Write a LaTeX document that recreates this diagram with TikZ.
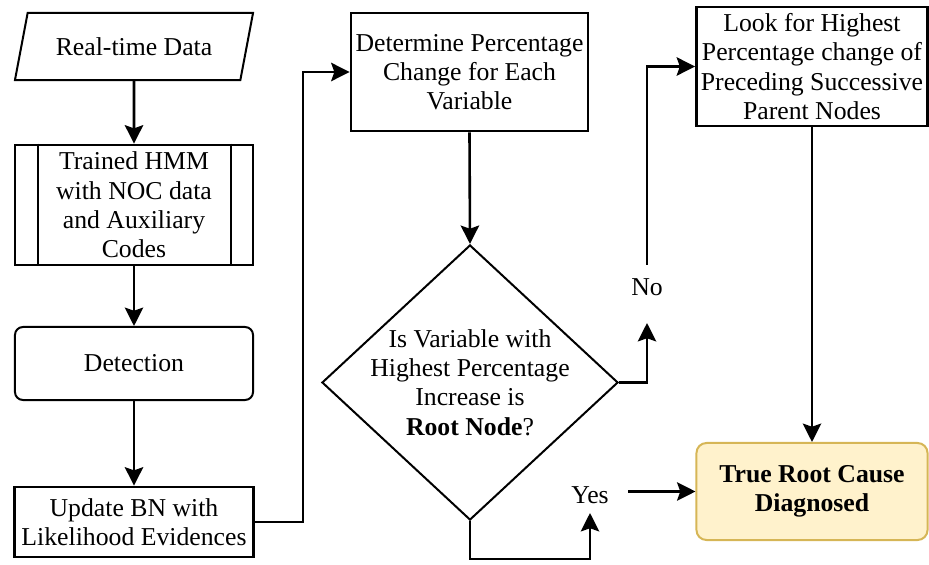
\documentclass[tikz,border=0pt]{standalone}
\usepackage{fontspec}
\setmainfont{Liberation Serif}
\usetikzlibrary{shapes.geometric,arrows.meta}
\tikzset{
  box/.style={draw, line width=0.07cm, align=center, inner sep=0.05cm},
  databox/.style={draw, line width=0.05cm, trapezium, trapezium left angle=55, trapezium right angle=125, trapezium stretches body, inner sep=0cm},
  roundbox/.style={box, line width=0.05cm, rounded corners=0.2cm},
  decbox/.style={draw, line width=0.05cm, diamond, shape aspect=1.08, align=center, inner sep=-0.15cm},
  arr/.style={line width=0.065cm, -{Stealth[length=0.46cm, width=0.46cm, inset=0.08cm]}},
}
\begin{document}
\begin{tikzpicture}[x=0.025cm, y=-0.025cm, font=\fontsize{18.3}{20.8}\selectfont]
                        \useasboundingbox (0,0) rectangle (929,565);

                        % Changing color 255 242 204 and 214 182 86
                        \definecolor{r255g242b204}{rgb}{1.000000,0.949020,0.800000}%
                        \definecolor{r214g182b86}{rgb}{0.839216,0.713725,0.337255}%

                        % Left column
                        \node [databox, minimum width=5.95cm, minimum height=1.675cm] (data) at (134,46.5) {Real-time Data};%
                        \node [box, minimum width=5.95cm, minimum height=3cm, inner sep=0.02cm] (hmm) at (134,205) {Trained HMM\\with NOC data\\and Auxiliary\\Codes};%
                        \draw [line width=0.05cm] ([xshift=0.6cm]hmm.north west) -- ([xshift=0.6cm]hmm.south west);%
                        \draw [line width=0.05cm] ([xshift=-0.575cm]hmm.north east) -- ([xshift=-0.575cm]hmm.south east);%
                        \node [roundbox, minimum width=5.95cm, minimum height=1.825cm] (det) at (134,363.5) {Detection};%
                        \node [box, minimum width=5.975cm, minimum height=1.75cm] (upd) at (134,522) {Update BN with\\Likelihood Evidences};%

                        % Middle column
                        \node [box, minimum width=5.925cm, minimum height=2.95cm] (perc) at (469.5,72) {Determine Percentage\\Change for Each\\Variable};%
                        \node [decbox, minimum width=7.4cm, minimum height=6.875cm] (dec) at (470,382.5) {Is Variable with\\Highest Percentage\\Increase is\\\textbf{Root Node}?};%

                        % Right column
                        \node [box, minimum width=5.775cm, minimum height=2.975cm, inner sep=0.02cm] (look) at (812,66.5) {Look for Highest\\Percentage change of\\Preceding Successive\\Parent Nodes};%
                        \node [box, line width=0.05cm, rounded corners=0.25cm, draw=r214g182b86, fill=r255g242b204, minimum width=5.775cm, minimum height=2.425cm] (root) at (812,491.5) {\textbf{True Root Cause}\\\textbf{Diagnosed}};%

                        % Branch labels
                        \node (no) at (647,287) {No};%
                        \node (yes) at (590,495) {Yes};%

                        % Drawing arrows
                        \draw [arr] (data.south) -- (hmm.north);%
                        \draw [arr] (hmm.south) -- (det.north);%
                        \draw [arr] (det.south) -- (upd.north);%
                        \draw [arr] (upd.east) -- ++(48,0) |- (perc.west);%
                        \draw [arr] (perc.south) -- (dec.north);%
                        \draw [arr, shorten >=0.9cm] (dec.east) -| (no.center);%
                        \draw [arr, shorten <=0.55cm] (no.center) |- (look.west);%
                        \draw [arr] (look.south) -- (look.south |- root.north);%
                        \draw [arr, shorten >=0.45cm] (dec.south) -- ++(0,38) -| (yes.center);%
                        \draw [arr, shorten <=0.95cm] (yes.center |- root.west) -- (root.west);%
                        \end{tikzpicture}
\end{document}
